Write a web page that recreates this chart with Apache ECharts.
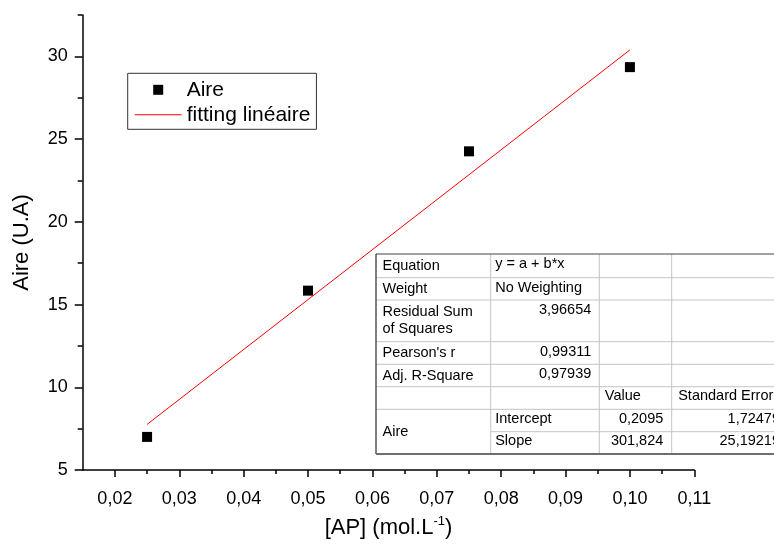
<!DOCTYPE html>
<html><head><meta charset="utf-8">
<script src="https://cdn.jsdelivr.net/npm/echarts@6/dist/echarts.min.js"></script>
<style>html,body{margin:0;padding:0;background:#fff}#c{width:774px;height:544px}</style>
</head><body><div id="c"></div>
<script>
// ---- data ----
const concentrations = [0.025, 0.05, 0.075, 0.10];
const aireValues = [7.0, 15.84, 24.26, 29.35];
const fitX = [0.025, 0.10];
const fitY = [7.755, 30.39];
const xTickValues = [0.02, 0.03, 0.04, 0.05, 0.06, 0.07, 0.08, 0.09, 0.10, 0.11];
const xMinorTicks = [0.025, 0.035, 0.045, 0.055, 0.065, 0.075, 0.085, 0.095, 0.105];
const yTickValues = [5, 10, 15, 20, 25, 30];
const yMinorTicks = [7.5, 12.5, 17.5, 22.5, 27.5, 32.5];
const statLabels = ['Equation', 'Weight', 'Residual Sum\nof Squares', "Pearson's r", 'Adj. R-Square'];
const statValues = ['y = a + b*x', 'No Weighting', '3,96654', '0,99311', '0,97939'];
const paramHeader = ['Value', 'Standard Error'];
const paramGroup = 'Aire';
const paramNames = ['Intercept', 'Slope'];
const paramValues = ['0,2095', '301,824'];
const paramErrors = ['1,72479', '25,19219'];

const FONT = '"Liberation Sans", Arial, sans-serif';
const chart = echarts.init(document.getElementById('c'), null, {renderer: 'canvas'});

// ---- table (graphic) ----
const rowY = [254, 277.7, 300, 341.7, 364.3, 386.7, 409.3, 431.7, 454];
const colX = [376, 490.7, 599.3, 671.7, 790];
const tfs = 14.5;
const g = [];
const Z = 100;
g.push({type: 'rect', z: Z, shape: {x: colX[0], y: rowY[0], width: colX[4] - colX[0], height: rowY[8] - rowY[0]}, style: {fill: '#fff', stroke: null}});
const gray = '#c4c4c4';
function hline(y, x1, x2, color, w) { g.push({type: 'line', z: Z + 1, shape: {x1: x1, y1: y, x2: x2, y2: y}, style: {stroke: color, lineWidth: w || 1}}); }
function vline(x, y1, y2, color, w) { g.push({type: 'line', z: Z + 1, shape: {x1: x, y1: y1, x2: x, y2: y2}, style: {stroke: color, lineWidth: w || 1}}); }
for (let i = 1; i < rowY.length - 1; i++) {
  hline(rowY[i], i === 7 ? colX[1] : colX[0], colX[4], gray);
}
for (let j = 1; j < colX.length - 1; j++) vline(colX[j], rowY[0], rowY[8], gray);
hline(rowY[0], colX[0], colX[4], '#444');
vline(colX[0], rowY[0], rowY[8], '#000');
hline(rowY[8], colX[0], colX[4], '#6e6e6e', 2);
function txt(s, x, y, align, vAlign) {
  g.push({type: 'text', z: Z + 2, x: x, y: y, style: {text: s, fill: '#000', font: tfs + 'px ' + FONT, align: align, verticalAlign: vAlign || 'middle', lineHeight: 17}});
}
for (let i = 0; i < statLabels.length; i++) {
  txt(statLabels[i], colX[0] + 6.5, (rowY[i] + rowY[i + 1]) / 2, 'left');
  const isNum = /^[0-9]/.test(statValues[i]);
  txt(statValues[i], isNum ? colX[2] - 8 : colX[1] + 4.5, rowY[i] + 10, isNum ? 'right' : 'left');
}
txt(paramHeader[0], colX[2] + 5.5, rowY[5] + 9.5, 'left');
txt(paramHeader[1], colX[3] + 6.5, rowY[5] + 9.5, 'left');
txt(paramGroup, colX[0] + 6.5, (rowY[6] + rowY[8]) / 2, 'left');
for (let k = 0; k < paramNames.length; k++) {
  const y = rowY[6 + k] + 9.5;
  txt(paramNames[k], colX[1] + 4.5, y, 'left');
  txt(paramValues[k], colX[3] - 8.4, y, 'right');
  txt(paramErrors[k], 780, y, 'right');
}

const fmtX = v => v.toFixed(2).replace('.', ',');
const axisLineStyle = {color: '#000', width: 1.5};

const option = {
  animation: false,
  backgroundColor: '#fff',
  textStyle: {fontFamily: FONT},
  grid: {left: 82.7, right: 79.7, top: 15, bottom: 74, containLabel: false, outerBoundsMode: 'none'},
  legend: {
    left: 127.7, top: 73.3, orient: 'vertical',
    borderColor: '#333', borderWidth: 1, borderRadius: 0,
    padding: [6, 6, 4, 7], itemWidth: 47, itemHeight: 10, itemGap: 4,
    textStyle: {fontSize: 21, lineHeight: 20, color: '#000', fontFamily: FONT},
    data: [
      {name: 'Aire', icon: 'path://M0,0H10V10H0Z'},
      {name: 'fitting linéaire', icon: 'path://M0,0H47V1H0Z', itemStyle: {color: '#ff0000'}}
    ]
  },
  xAxis: [{
    type: 'value', min: 0.015, max: 0.11, position: 'bottom',
    axisLine: {show: true, onZero: false, lineStyle: axisLineStyle},
    axisTick: {show: true, customValues: xTickValues, length: 7, inside: false, lineStyle: axisLineStyle},
    axisLabel: {customValues: xTickValues, formatter: fmtX, fontSize: 18, color: '#000', margin: 20, fontFamily: FONT},
    splitLine: {show: false},
    name: '{a|[AP] (mol.L}{s|-1}{a|)}', nameLocation: 'middle', nameGap: 45,
    nameTextStyle: {rich: {a: {fontSize: 22, fontFamily: FONT, color: '#000', lineHeight: 26}, s: {fontSize: 13, fontFamily: FONT, color: '#000', verticalAlign: 'top', lineHeight: 26}}}
  }, {
    type: 'value', min: 0.015, max: 0.11, position: 'bottom',
    axisLine: {show: false, onZero: false},
    axisTick: {show: true, customValues: xMinorTicks, length: 4, inside: false, lineStyle: axisLineStyle},
    axisLabel: {show: false}, splitLine: {show: false}
  }],
  yAxis: [{
    type: 'value', min: 5, max: 32.5, position: 'left',
    axisLine: {show: true, onZero: false, lineStyle: axisLineStyle},
    axisTick: {show: true, customValues: yTickValues, length: 8, inside: false, lineStyle: axisLineStyle},
    axisLabel: {customValues: yTickValues, fontSize: 18, color: '#000', margin: 15, fontFamily: FONT},
    splitLine: {show: false},
    name: 'Aire (U.A)', nameLocation: 'middle', nameRotate: 90, nameGap: 50,
    nameTextStyle: {fontSize: 22, color: '#000', fontFamily: FONT}
  }, {
    type: 'value', min: 5, max: 32.5, position: 'left',
    axisLine: {show: false, onZero: false},
    axisTick: {show: true, customValues: yMinorTicks, length: 5, inside: false, lineStyle: axisLineStyle},
    axisLabel: {show: false}, splitLine: {show: false}
  }],
  series: [{
    name: 'Aire', type: 'scatter', xAxisIndex: 0, yAxisIndex: 0,
    symbol: 'rect', symbolSize: 10, itemStyle: {color: '#000', opacity: 1},
    data: concentrations.map((x, i) => [x, aireValues[i]]), z: 3
  }, {
    name: 'fitting linéaire', type: 'line', xAxisIndex: 0, yAxisIndex: 0,
    symbol: 'none', showSymbol: false, lineStyle: {color: '#ff0000', width: 1}, itemStyle: {color: '#ff0000'},
    data: fitX.map((x, i) => [x, fitY[i]]), z: 2
  }],
  graphic: {elements: g}
};
chart.setOption(option);
</script>
</body></html>
